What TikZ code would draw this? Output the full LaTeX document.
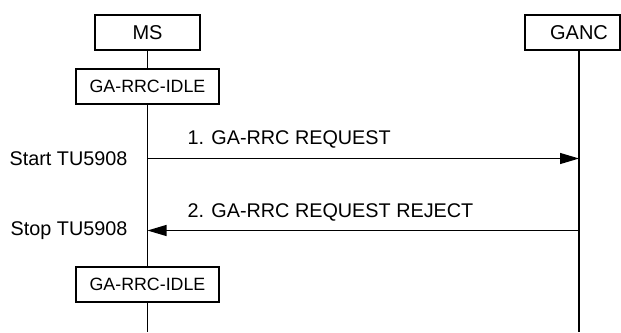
\documentclass[tikz,border=0pt]{standalone}
\usepackage{fontspec}
\setmainfont{Liberation Sans}
\usetikzlibrary{arrows.meta,positioning}

\begin{document}
\begin{tikzpicture}[x=1pt,y=-1pt,line width=1.2pt,>={Triangle[length=19pt,width=11pt]},
                    entity/.style={rectangle, draw, minimum height=35pt, inner sep=0pt, font=\fontsize{20}{24}\selectfont},
                    state/.style={rectangle, draw, fill=white, minimum width=143pt, minimum height=35pt, inner sep=0pt, font=\fontsize{17.8}{21}\selectfont},
                    msg/.style={inner sep=0pt, font=\fontsize{19.8}{24}\selectfont},]
                    \useasboundingbox (0,0) rectangle (621,332);

                    \node [entity, minimum width=105pt](ms) at (147.5,32.5){MS};
                    \node [entity, minimum width=95pt](ganc) at (572.5,32.5){\hspace*{13pt}GANC};

                    \node [state](idle1) at (147.5,86.5){GA-RRC-IDLE};
                    \node [state](idle2) at (147.5,284.5){GA-RRC-IDLE};

                    \coordinate (msend) at (147.5,332);
                    \coordinate (gancstart) at (579,50);
                    \coordinate (gancend) at (579,332);

                    \coordinate (req-ms) at (147.5,158.5);
                    \coordinate (req-ganc) at (579,158.5);
                    \coordinate (rej-ganc) at (579,230.5);
                    \coordinate (rej-ms) at (147.5,230.5);

                    % lifelines
                    \draw (ms.south) -- (idle1.north);
                    \draw (idle1.south) -- (idle2.north);
                    \draw (idle2.south) -- (msend);
                    \draw (gancstart) -- (gancend);

                    % messages
                    \draw[->] (req-ms) -- (req-ganc);
                    \draw[->] (rej-ganc) -- (rej-ms);

                    \node [msg, anchor=base west](reqlabel) at (187,144){1. GA-RRC REQUEST};
                    \node [msg, anchor=base west](rejlabel) at (187,217.5){2. GA-RRC REQUEST REJECT};
                    \node [msg, anchor=base east](starttimer) at (128,165){Start TU5908};
                    \node [msg, anchor=base east](stoptimer) at (128,235.5){Stop TU5908};

                \end{tikzpicture}
\end{document}
